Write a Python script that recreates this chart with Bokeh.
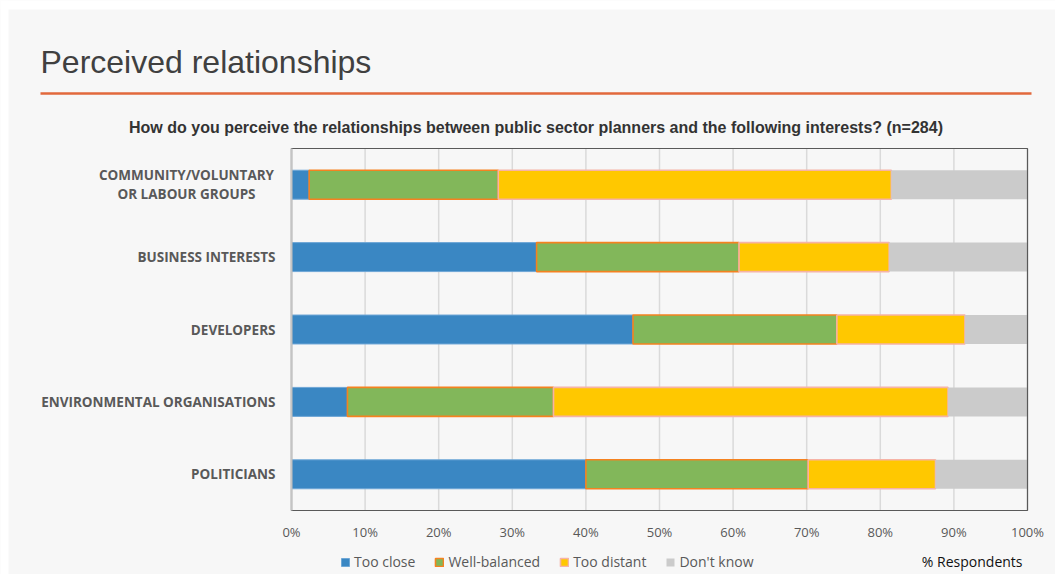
from bokeh.plotting import figure
from bokeh.models import ColumnDataSource, Range1d, Legend, LegendItem
from bokeh.embed import file_html
from bokeh.resources import INLINE
from bokeh.core.properties import value

# ---------------- data ----------------
categories = ["COMMUNITY/VOLUNTARY OR LABOUR GROUPS", "BUSINESS INTERESTS", "DEVELOPERS",
              "ENVIRONMENTAL ORGANISATIONS", "POLITICIANS"]
category_labels = ["COMMUNITY/VOLUNTARY\nOR LABOUR GROUPS", "BUSINESS INTERESTS", "DEVELOPERS",
                   "ENVIRONMENTAL ORGANISATIONS", "POLITICIANS"]
series = ["Too close", "Well-balanced", "Too distant", "Don't know"]
too_close = [2.4, 33.3, 46.4, 7.6, 40.0]
well_balanced = [25.7, 27.5, 27.7, 28.0, 30.2]
too_distant = [53.4, 20.4, 17.4, 53.6, 17.3]
dont_know = [18.5, 18.8, 8.5, 10.8, 12.5]
x_ticks = [0, 10, 20, 30, 40, 50, 60, 70, 80, 90, 100]
x_tick_labels = [f"{t}%" for t in x_ticks]

page_title = "Perceived relationships"
chart_subtitle = "How do you perceive the relationships between public sector planners and the following interests? (n=284)"
x_axis_note = "% Respondents"

# ---------------- style / layout ----------------
W, H = 1055, 574
BG = "#f7f7f7"
fill_colors = ["#3a87c3", "#82b75a", "#ffc800", "#cbcbcb"]
line_colors = ["#6ea7d6", "#f58220", "#f6b3a6", "#cbcbcb"]
line_widths = [1, 1.6, 1.6, 0]
LABEL_FONT = "Open Sans"

# plot area: 0% at x=291px, 100% at x=1027px; rows 72.4px apart, first row centred at y=184.2px
PX_PER_PCT = 7.36
ROW_PX = 72.4
n = len(categories)
row_pos = [n - 1 - i for i in range(n)]          # top row first
top_row_px = 184.2
y_top = (n - 1) + top_row_px / ROW_PX
y_bottom = (n - 1) - (H - top_row_px) / ROW_PX
frame_lo, frame_hi = -0.5, n - 0.5

p = figure(width=W, height=H,
           x_range=Range1d(-291 / PX_PER_PCT, 100 + (W - 1027) / PX_PER_PCT),
           y_range=Range1d(y_bottom, y_top),
           output_backend="svg", toolbar_location=None, min_border=0)
p.extra_x_ranges = {"px": Range1d(0, W)}
p.extra_y_ranges = {"px": Range1d(H, 0)}
p.axis.visible = False
p.grid.visible = False
p.outline_line_color = None
p.background_fill_color = BG
p.border_fill_color = BG

# ---------------- header ----------------
p.quad(left=[0, 0], right=[W, 8], top=[0, 0], bottom=[9, H], fill_color="white", line_color=None,
       x_range_name="px", y_range_name="px")
p.text(x=[40], y=[61], text=[page_title], text_font=value("Liberation Sans"),
       text_font_size="32px", text_color="#404040", text_baseline="middle",
       x_range_name="px", y_range_name="px")
p.segment(x0=[40], x1=[1031], y0=[93], y1=[93], line_color="#e2693c", line_width=2.5,
          x_range_name="px", y_range_name="px")
p.text(x=[535.5], y=[127], text=[chart_subtitle], text_font=value("Liberation Sans"),
       text_font_style="bold", text_font_size="16px", text_color="#333333",
       text_align="center", text_baseline="middle", x_range_name="px", y_range_name="px")

# ---------------- grid ----------------
p.segment(x0=x_ticks, x1=x_ticks, y0=[frame_lo] * len(x_ticks), y1=[frame_hi] * len(x_ticks),
          line_color="#dadada", line_width=1.5)

# ---------------- bars ----------------
src = ColumnDataSource(dict(y=row_pos, too_close=too_close, well_balanced=well_balanced,
                            too_distant=too_distant, dont_know=dont_know))
keys = ["too_close", "well_balanced", "too_distant", "dont_know"]
renderers = p.hbar_stack(keys, y="y", height=0.4, source=src, fill_color=fill_colors,
                         line_color=line_colors, line_width=line_widths)

# ---------------- frame / axes ----------------
p.quad(left=[0], right=[100], bottom=[frame_lo], top=[frame_hi], fill_color=None,
       line_color="#595959", line_width=1.2)
p.segment(x0=[0], x1=[0], y0=[frame_lo], y1=[frame_hi], line_color="#c4c4c4", line_width=2)

p.text(x=x_ticks, y=[frame_lo] * len(x_ticks), text=x_tick_labels, y_offset=12,
       text_font=value(LABEL_FONT), text_font_size="13px", text_color="#595959",
       text_align="center", text_baseline="top")

single = [i for i, t in enumerate(category_labels) if "\n" not in t]
multi = [i for i, t in enumerate(category_labels) if "\n" in t]
p.text(x=[0] * len(single), y=[row_pos[i] for i in single],
       text=[category_labels[i] for i in single], x_offset=-16,
       text_font=value(LABEL_FONT), text_font_style="bold", text_font_size="13.5px",
       text_color="#595959", text_align="right", text_baseline="middle")
p.text(x=[0] * len(multi), y=[row_pos[i] for i in multi],
       text=[category_labels[i] for i in multi], x_offset=-105,
       text_font=value(LABEL_FONT), text_font_style="bold", text_font_size="13.5px",
       text_color="#595959", text_align="center", text_baseline="middle", text_line_height=1.03)

# ---------------- legend ----------------
legend = Legend(items=[LegendItem(label=s, renderers=[r]) for s, r in zip(series, renderers)],
                orientation="horizontal", location=(340, 3), glyph_width=10, glyph_height=10,
                label_text_font=LABEL_FONT, label_text_font_size="14px",
                label_text_color="#595959", spacing=19, label_standoff=4, padding=0, margin=0,
                border_line_color=None, background_fill_alpha=0)
p.add_layout(legend)

p.text(x=[1022], y=[561], text=[x_axis_note], text_align="right", text_baseline="middle",
       text_font=value(LABEL_FONT), text_font_size="14px", text_color="#111111",
       x_range_name="px", y_range_name="px")

open("out.html", "w").write(file_html(p, INLINE))
